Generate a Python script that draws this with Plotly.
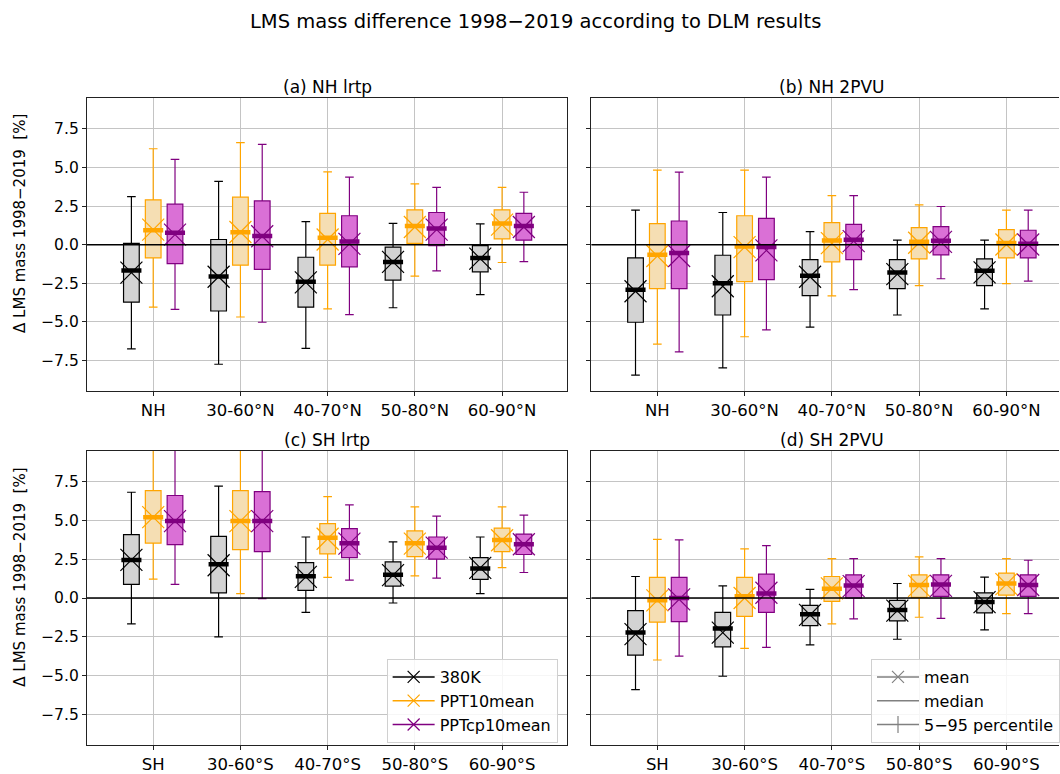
import plotly.graph_objects as go

# ---------------- data ----------------
# each row: [p5, q1, median, q3, p95, mean]
NH_CATS = ["NH", "30-60°N", "40-70°N", "50-80°N", "60-90°N"]
SH_CATS = ["SH", "30-60°S", "40-70°S", "50-80°S", "60-90°S"]
SERIES = ["380K", "PPT10mean", "PPTcp10mean"]

A_380K = [[-6.75, -3.72, -1.67, 0.09, 3.12, -1.80], [-7.74, -4.29, -2.05, 0.34, 4.10, -2.07],
          [-6.71, -4.04, -2.39, -0.81, 1.50, -2.44], [-4.08, -2.29, -1.11, -0.15, 1.39, -1.11],
          [-3.23, -1.75, -0.85, -0.06, 1.35, -0.90]]
A_PPT = [[-4.04, -0.85, 0.94, 2.91, 6.22, 0.98], [-4.68, -1.32, 0.81, 3.08, 6.62, 0.83],
         [-4.15, -1.32, 0.45, 2.03, 4.72, 0.34], [-2.03, 0.09, 1.22, 2.26, 3.95, 1.15],
         [-1.15, 0.38, 1.37, 2.26, 3.72, 1.30]]
A_PPTCP = [[-4.19, -1.22, 0.77, 2.63, 5.53, 0.66], [-5.02, -1.60, 0.56, 2.84, 6.50, 0.55],
           [-4.53, -1.43, 0.21, 1.88, 4.38, 0.06], [-1.69, -0.06, 1.05, 2.09, 3.72, 0.98],
           [-1.09, 0.30, 1.22, 2.03, 3.40, 1.15]]

B_380K = [[-8.44, -5.02, -2.91, -0.85, 2.24, -3.01], [-7.97, -4.55, -2.50, -0.68, 2.09, -2.69],
          [-5.34, -3.29, -2.01, -0.96, 0.85, -2.07], [-4.55, -2.84, -1.79, -0.96, 0.30, -1.90],
          [-4.15, -2.65, -1.69, -0.92, 0.30, -1.79]]
B_PPT = [[-6.43, -2.84, -0.64, 1.37, 4.83, -0.73], [-5.96, -2.39, -0.11, 1.88, 4.83, -0.15],
         [-3.31, -1.11, 0.28, 1.43, 3.18, 0.11], [-2.65, -0.92, 0.19, 1.11, 2.59, 0.13],
         [-2.52, -0.85, 0.11, 0.98, 2.24, 0.02]]
B_PPTCP = [[-6.94, -2.84, -0.53, 1.54, 4.70, -0.73], [-5.51, -2.26, -0.15, 1.71, 4.38, -0.36],
           [-2.91, -0.96, 0.32, 1.32, 3.18, 0.24], [-2.20, -0.66, 0.26, 1.18, 2.48, 0.19],
           [-2.35, -0.85, 0.06, 0.94, 2.24, 0.02]]

C_380K = [[-1.67, 0.88, 2.46, 4.09, 6.83, 2.46], [-2.51, 0.34, 2.18, 3.98, 7.22, 2.12],
          [-0.92, 0.49, 1.41, 2.29, 3.94, 1.37], [-0.32, 0.77, 1.50, 2.33, 3.62, 1.48],
          [0.28, 1.20, 1.91, 2.61, 3.94, 1.95]]
C_PPT = [[1.22, 3.55, 5.22, 6.94, 10.8, 5.22], [0.28, 3.13, 4.97, 6.94, 10.6, 4.97],
         [1.33, 2.85, 3.90, 4.80, 6.55, 3.83], [1.43, 2.68, 3.53, 4.33, 5.89, 3.51],
         [1.97, 3.00, 3.75, 4.52, 5.89, 3.73]]
C_PPTCP = [[0.88, 3.45, 4.97, 6.62, 10.5, 4.97], [-0.04, 3.00, 4.97, 6.87, 10.9, 4.97],
           [1.16, 2.61, 3.53, 4.48, 6.02, 3.51], [1.28, 2.51, 3.25, 3.94, 5.29, 3.25],
           [1.65, 2.81, 3.47, 4.13, 5.35, 3.47]]

D_380K = [[-5.91, -3.68, -2.23, -0.81, 1.39, -2.33], [-5.05, -3.15, -1.97, -0.92, 0.79, -2.23],
          [-3.02, -1.78, -1.05, -0.47, 0.56, -1.09], [-2.66, -1.48, -0.77, -0.15, 0.94, -0.81],
          [-2.06, -0.96, -0.26, 0.34, 1.35, -0.26]]
D_PPT = [[-4.00, -1.56, -0.15, 1.33, 3.79, -0.15], [-3.25, -1.18, 0.11, 1.33, 3.17, 0.00],
         [-1.67, -0.21, 0.60, 1.39, 2.55, 0.62], [-1.24, 0.04, 0.84, 1.50, 2.66, 0.79],
         [-1.01, 0.19, 0.94, 1.61, 2.55, 0.90]]
D_PPTCP = [[-3.75, -1.52, 0.00, 1.33, 3.75, -0.09], [-3.19, -0.92, 0.30, 1.54, 3.38, 0.34],
           [-1.35, 0.00, 0.81, 1.50, 2.55, 0.77], [-1.31, 0.11, 0.88, 1.50, 2.55, 0.79],
           [-1.01, 0.11, 0.84, 1.50, 2.44, 0.84]]

PANEL_TITLES = ["(a) NH lrtp", "(b) NH 2PVU", "(c) SH lrtp", "(d) SH 2PVU"]
Y_TICKS = [-7.5, -5.0, -2.5, 0.0, 2.5, 5.0, 7.5]
Y_TICKTEXT = ["−7.5", "−5.0", "−2.5", "0.0", "2.5", "5.0", "7.5"]

# ---------------- style ----------------
FONT = "DejaVu Sans"
EDGE = ["#000000", "#FFA500", "#800080"]
FILL = ["#D3D3D3", "#F5DEB3", "#DA70D6"]
OFFSETS = [-0.25, 0.0, 0.25]
BOX_W = 0.18
MED_HW = 0.115
W, H = 1060, 774

panels = [
    dict(data=[A_380K, A_PPT, A_PPTCP], cats=NH_CATS, ax=("x", "y"),
         px=(87, 568), py=(99, 395), xr=[-0.76, 4.75], ylab=225),
    dict(data=[B_380K, B_PPT, B_PPTCP], cats=NH_CATS, ax=("x2", "y2"),
         px=(592, 1060), py=(99, 395), xr=[-0.755, -0.755 + 468 / 87.35], ylab=None),
    dict(data=[C_380K, C_PPT, C_PPTCP], cats=SH_CATS, ax=("x3", "y3"),
         px=(87, 568), py=(455, 752), xr=[-0.76, 4.75], ylab=582),
    dict(data=[D_380K, D_PPT, D_PPTCP], cats=SH_CATS, ax=("x4", "y4"),
         px=(592, 1060), py=(455, 752), xr=[-0.755, -0.755 + 468 / 87.35], ylab=None),
]

fig = go.Figure()
layout = {}
annotations = []
shapes = []

for pi, p in enumerate(panels):
    xa, ya = p["ax"]
    for si, rows in enumerate(p["data"]):
        pos = [i + OFFSETS[si] for i in range(len(rows))]
        fig.add_trace(go.Box(
            x=pos, lowerfence=[r[0] for r in rows], q1=[r[1] for r in rows],
            median=[r[2] for r in rows], q3=[r[3] for r in rows],
            upperfence=[r[4] for r in rows], width=BOX_W, whiskerwidth=0.55,
            line=dict(color=EDGE[si], width=1.2), fillcolor=FILL[si],
            boxpoints=False, showlegend=False, xaxis=xa, yaxis=ya, hoverinfo="skip"))
        mx, my = [], []
        for x0, r in zip(pos, rows):
            mx += [x0 - MED_HW, x0 + MED_HW, None]
            my += [r[2], r[2], None]
        fig.add_trace(go.Scatter(x=mx, y=my, mode="lines",
                                 line=dict(color=EDGE[si], width=4.5),
                                 showlegend=False, xaxis=xa, yaxis=ya, hoverinfo="skip"))
    for si, rows in enumerate(p["data"]):
        pos = [i + OFFSETS[si] for i in range(len(rows))]
        fig.add_trace(go.Scatter(x=pos, y=[r[5] for r in rows], mode="markers",
                                 marker=dict(symbol="x-thin", size=22, color=EDGE[si],
                                             line=dict(color=EDGE[si], width=1.2)),
                                 showlegend=False, xaxis=xa, yaxis=ya, hoverinfo="skip"))

    right = pi in (1, 3)
    xkey = "xaxis" + ("" if pi == 0 else str(pi + 1))
    ykey = "yaxis" + ("" if pi == 0 else str(pi + 1))
    layout[xkey] = dict(
        domain=[p["px"][0] / W, p["px"][1] / W], anchor=ya, range=p["xr"],
        tickmode="array", tickvals=list(range(len(p["cats"]))), ticktext=p["cats"],
        showgrid=True, gridcolor="#c4c4c4", gridwidth=1, zeroline=False,
        showline=True, linecolor="#222222", linewidth=1.1, mirror=True,
        ticks="outside", ticklen=4, tickwidth=1, tickcolor="#222222",
        tickfont=dict(family=FONT, size=16.5, color="black"), fixedrange=True)
    layout[ykey] = dict(
        domain=[1 - p["py"][1] / H, 1 - p["py"][0] / H], anchor=xa, range=[-9.5, 9.5],
        tickmode="array", tickvals=Y_TICKS, ticktext=Y_TICKTEXT,
        showticklabels=not right,
        showgrid=True, gridcolor="#c4c4c4", gridwidth=1, zeroline=False,
        showline=True, linecolor="#222222", linewidth=1.1, mirror=not right,
        ticks="outside", ticklen=4, tickwidth=1, tickcolor="#222222",
        tickfont=dict(family=FONT, size=15.5, color="black"), fixedrange=True)

    shapes.append(dict(type="line", xref=xa + " domain", yref=ya, x0=0, x1=1, y0=0, y1=0,
                       line=dict(color="black", width=1.6), layer="above"))
    cx = (p["px"][0] + 240.5) if right else (p["px"][0] + p["px"][1]) / 2
    annotations.append(dict(text=PANEL_TITLES[pi], xref="paper", yref="paper",
                            x=cx / W, y=1 - (p["py"][0] - 11) / H,
                            xanchor="center", yanchor="middle",
                            showarrow=False, font=dict(family=FONT, size=17, color="black")))
    if p["ylab"] is not None:
        annotations.append(dict(text="Δ LMS mass 1998−2019  [%]", xref="paper", yref="paper",
                                x=20 / W, y=1 - p["ylab"] / H,
                                textangle=-90, xanchor="center", yanchor="middle",
                                showarrow=False, font=dict(family=FONT, size=15, color="black")))

annotations.append(dict(text="LMS mass difference 1998−2019 according to DLM results",
                        xref="paper", yref="paper", x=536 / W, y=1 - 22 / H,
                        xanchor="center", yanchor="middle", showarrow=False,
                        font=dict(family=FONT, size=19.5, color="black")))

# legend entries (series) in panel (c)
for si, name in enumerate(SERIES):
    fig.add_trace(go.Scatter(x=[None], y=[None], mode="lines+markers", name=name,
                             line=dict(color=EDGE[si], width=1.5),
                             marker=dict(symbol="x-thin", size=12, line=dict(color=EDGE[si], width=1.2)),
                             xaxis="x3", yaxis="y3", legend="legend"))
# legend entries (statistics) in panel (d)
STAT_NAMES = ["mean", "median", "5−95 percentile"]
STAT_SYMBOLS = ["x-thin", None, "line-ns"]
for name, sym in zip(STAT_NAMES, STAT_SYMBOLS):
    if sym is None:
        fig.add_trace(go.Scatter(x=[None], y=[None], mode="lines", name=name,
                                 line=dict(color="#808080", width=1.5),
                                 xaxis="x4", yaxis="y4", legend="legend2"))
    else:
        fig.add_trace(go.Scatter(x=[None], y=[None], mode="lines+markers", name=name,
                                 line=dict(color="#808080", width=1.5),
                                 marker=dict(symbol=sym, size=12, line=dict(color="#808080", width=1.2)),
                                 xaxis="x4", yaxis="y4", legend="legend2"))

legend_style = dict(bgcolor="rgba(255,255,255,0.85)", bordercolor="#d0d0d0", borderwidth=1,
                    font=dict(family=FONT, size=16, color="black"),
                    xanchor="left", yanchor="top", tracegroupgap=0, itemwidth=42)
layout["legend"] = dict(x=387 / W, y=1 - 665 / H, **legend_style)
layout["legend2"] = dict(x=872 / W, y=1 - 665 / H, **legend_style)

fig.update_layout(width=W, height=H, margin=dict(l=0, r=0, t=0, b=0),
                  paper_bgcolor="white", plot_bgcolor="white", boxmode="overlay",
                  showlegend=True, annotations=annotations, shapes=shapes,
                  font=dict(family=FONT, color="black"), **layout)

fig.write_html("out.html", config={"displayModeBar": False},
               post_script="document.body.style.margin='0';document.body.style.overflow='hidden';")
